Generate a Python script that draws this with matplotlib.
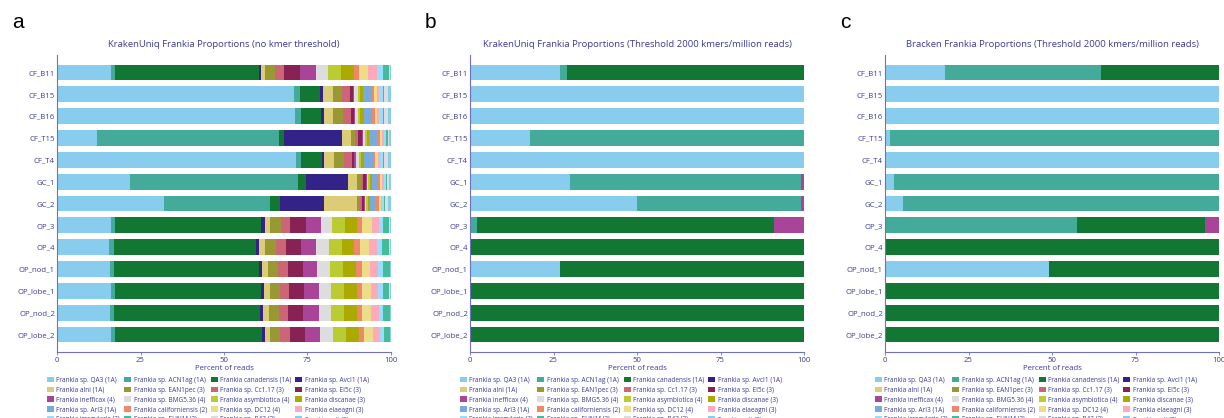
import numpy as np
import matplotlib
matplotlib.use("Agg")
import matplotlib.pyplot as plt
from matplotlib.patches import Patch

plt.rcParams['font.family'] = ['Open Sans', 'DejaVu Sans']

# amostras (de cima para baixo)
samples = ['CF_B11', 'CF_B15', 'CF_B16', 'CF_T15', 'CF_T4', 'GC_1', 'GC_2',
           'OP_3', 'OP_4', 'OP_nod_1', 'OP_lobe_1', 'OP_nod_2', 'OP_lobe_2']

species = ['Frankia sp. QA3 (1A)', 'Frankia sp. ACN1ag (1A)', 'Frankia canadensis (1A)', 'Frankia sp. AvcI1 (1A)',
           'Frankia alni (1A)', 'Frankia sp. EAN1pec (3)', 'Frankia sp. Cc1.17 (3)', 'Frankia sp. EI5c (3)',
           'Frankia inefficax (4)', 'Frankia sp. BMG5.36 (4)', 'Frankia asymbiotica (4)', 'Frankia discanae (3)',
           'Frankia sp. ArI3 (1A)', 'Frankia californiensis (2)', 'Frankia sp. DC12 (4)', 'Frankia elaeagni (3)',
           'Frankia irregularis (3)', 'Frankia sp. EUN1f (3)', 'Frankia sp. R43 (3)', 'Frankia soli (3)']

colors = ['#88CCEE', '#44AA99', '#117733', '#332288',
          '#DDCC77', '#999933', '#CC6677', '#882255',
          '#AA4499', '#DDDDDD', '#BBCC33', '#AAAA00',
          '#77AADD', '#EE8866', '#EEDD88', '#FFAABB',
          '#99DDFF', '#44BB99', '#DDDDDD', '#88CCEE']

# painel a: uma linha por amostra, uma coluna por especie (ordem de species)
kraken_all = [
    [16.2, 1.3, 43.1, 0.6, 1.2, 2.8, 2.8, 4.8, 4.6, 3.8, 3.7, 4.0, 0.1, 1.3, 2.7, 2.8, 1.8, 1.9, 0.2, 0.4],
    [71.0, 1.7, 6.0, 0.9, 2.9, 2.9, 2.4, 0.8, 0.4, 1.0, 0.6, 1.0, 2.7, 0.7, 0.8, 0.7, 1.0, 0.3, 1.4, 0.8],
    [71.4, 1.6, 6.0, 0.8, 2.9, 2.9, 2.4, 0.8, 0.4, 1.0, 0.6, 1.0, 2.6, 0.7, 0.8, 0.6, 1.0, 0.3, 1.2, 1.0],
    [12.0, 54.4, 1.7, 17.1, 2.7, 1.3, 1.0, 1.2, 0.3, 0.5, 0.5, 0.8, 2.2, 1.1, 0.6, 0.6, 0.6, 0.5, 0.4, 0.5],
    [71.6, 1.5, 6.1, 0.8, 2.9, 2.9, 2.4, 0.8, 0.4, 1.0, 0.6, 1.0, 2.6, 0.7, 0.7, 0.6, 0.9, 0.3, 1.2, 1.0],
    [21.8, 50.4, 2.4, 12.4, 2.7, 1.2, 0.8, 0.7, 0.3, 0.5, 0.4, 0.6, 1.8, 0.8, 0.5, 0.5, 0.6, 0.3, 0.7, 0.6],
    [32.1, 31.8, 2.9, 13.0, 10.1, 0.9, 0.6, 0.6, 0.2, 0.4, 0.4, 0.6, 1.5, 1.2, 0.6, 0.5, 0.6, 0.3, 0.8, 0.9],
    [16.3, 1.2, 43.7, 1.1, 1.6, 3.2, 2.8, 4.6, 4.4, 3.5, 3.7, 3.8, 0.1, 1.3, 2.9, 2.1, 1.3, 1.9, 0.1, 0.4],
    [15.7, 1.3, 42.6, 1.0, 1.8, 3.1, 3.0, 4.5, 4.6, 3.9, 3.7, 3.7, 0.1, 1.8, 2.7, 2.3, 1.5, 2.2, 0.1, 0.4],
    [16.0, 1.2, 43.2, 1.1, 1.6, 3.1, 2.9, 4.5, 4.3, 3.8, 3.8, 4.0, 0.1, 1.6, 2.6, 2.4, 1.4, 2.0, 0.1, 0.3],
    [16.1, 1.3, 43.7, 0.8, 1.8, 3.0, 2.9, 4.5, 4.2, 3.8, 3.7, 3.9, 0.1, 1.5, 2.7, 2.1, 1.4, 2.0, 0.1, 0.4],
    [16.0, 1.2, 43.6, 0.9, 1.7, 3.0, 2.8, 4.6, 4.5, 3.8, 3.8, 3.9, 0.1, 1.5, 2.7, 2.2, 1.3, 2.0, 0.1, 0.3],
    [16.3, 1.2, 43.8, 1.0, 1.6, 3.0, 2.8, 4.5, 4.5, 3.8, 3.9, 4.0, 0.1, 1.4, 2.7, 2.0, 1.3, 1.8, 0.1, 0.2],
]

# painel b: KrakenUniq com limiar (so especies presentes)
kt_qa3 = [26.8, 100, 100, 18.1, 100, 30.0, 50.0, 0, 0, 26.9, 0, 0, 0]
kt_acn = [2.2, 0, 0, 81.9, 0, 69.1, 49.2, 2.2, 0, 0, 0, 0, 0]
kt_can = [71.0, 0, 0, 0, 0, 0, 0, 88.9, 100, 73.1, 100, 100, 100]
kt_ine = [0, 0, 0, 0, 0, 0.9, 0.8, 8.9, 0, 0, 0, 0, 0]

# painel c: Bracken com limiar
br_qa3 = [18.1, 100, 100, 1.4, 100, 2.6, 5.5, 0, 0, 49.0, 0, 0, 0]
br_acn = [46.6, 0, 0, 98.6, 0, 97.4, 94.5, 57.5, 0, 0, 0, 0, 0]
br_can = [35.3, 0, 0, 0, 0, 0, 0, 38.2, 100, 51.0, 100, 100, 100]
br_ine = [0, 0, 0, 0, 0, 0, 0, 4.3, 0, 0, 0, 0, 0]

titles = ['KrakenUniq Frankia Proportions (no kmer threshold)',
          'KrakenUniq Frankia Proportions (Threshold 2000 kmers/million reads)',
          'Bracken Frankia Proportions (Threshold 2000 kmers/million reads)']
letters = ['a', 'b', 'c']

txtcol = '#3b3b96'
axcol = '#7070c0'


def full_matrix(qa3, acn, can, ine):
    m = np.zeros((len(samples), len(species)))
    m[:, 0] = qa3
    m[:, 1] = acn
    m[:, 2] = can
    m[:, 8] = ine
    return m


panels = [np.array(kraken_all), full_matrix(kt_qa3, kt_acn, kt_can, kt_ine),
          full_matrix(br_qa3, br_acn, br_can, br_ine)]

fig = plt.figure(figsize=(12.24, 4.18), dpi=100)
lefts = [57, 470, 885]
w = 334 / 1224
h = 297 / 418
bottom = 1 - 352 / 418

y = np.arange(len(samples))
order = [i for j in range(4) for i in range(j, len(species), 4)]

for k in range(3):
    ax = fig.add_axes([lefts[k] / 1224, bottom, w, h])
    data = panels[k]
    left = np.zeros(len(samples))
    for s in range(len(species)):
        ax.barh(y, data[:, s], left=left, height=0.72, color=colors[s], linewidth=0)
        left = left + data[:, s]
    ax.set_xlim(0, 100)
    ax.set_ylim(len(samples) - 0.2, -0.8)
    ax.set_yticks(y)
    ax.set_yticklabels(samples)
    ax.set_xticks([0, 25, 50, 75, 100])
    ax.tick_params(axis='both', labelsize=5.6, colors=axcol, labelcolor=txtcol, length=2, width=0.6, pad=1.5)
    ax.tick_params(axis='y', length=0)
    for sp in ['top', 'right']:
        ax.spines[sp].set_visible(False)
    for sp in ['left', 'bottom']:
        ax.spines[sp].set_color(axcol)
        ax.spines[sp].set_linewidth(0.8)
    ax.set_xlabel('Percent of reads', fontsize=5.6, color=txtcol, labelpad=1)
    ax.set_title(titles[k], fontsize=6.8, color=txtcol, pad=6)

    handles = [Patch(facecolor=colors[i], edgecolor='none') for i in order]
    labels = [species[i] for i in order]
    ax.legend(handles, labels, ncol=4, loc='upper left', bbox_to_anchor=(-0.03, -0.083),
              fontsize=4.7, frameon=False, handlelength=1.1, handleheight=1.0, handletextpad=0.35,
              columnspacing=0.6, labelspacing=0.42, borderaxespad=0, borderpad=0, labelcolor=txtcol)

    fig.text((lefts[k] - 45) / 1224, 1 - 22 / 418, letters[k], fontsize=15,
             family='Liberation Sans', va='center', ha='left', color='black')

fig.savefig('out.png', dpi=100)
